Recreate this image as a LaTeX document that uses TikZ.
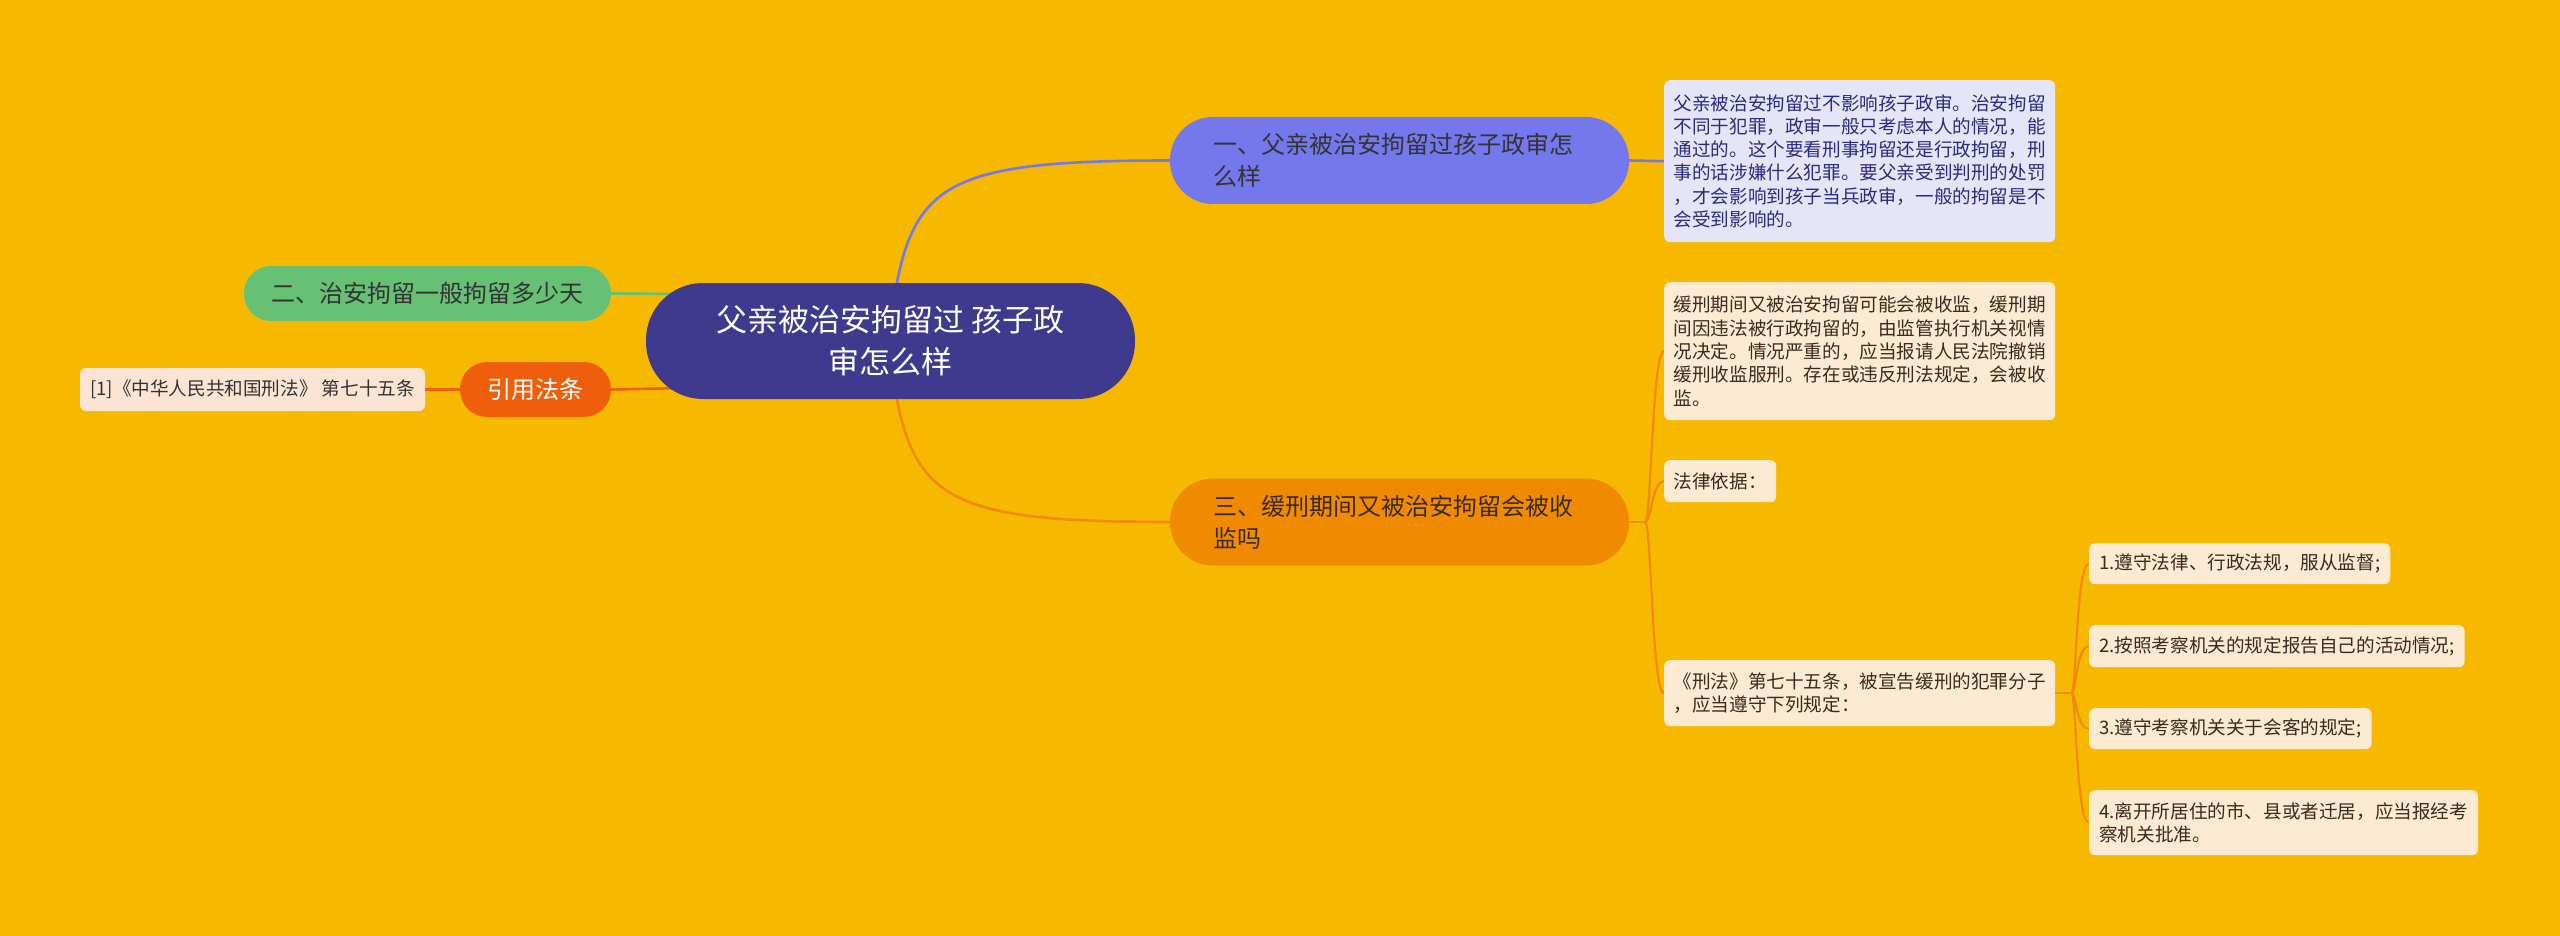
\documentclass[tikz,border=0pt]{standalone}
\usepackage{fontspec}
\setmainfont{Noto Sans CJK SC}
\usetikzlibrary{calc}
\pgfdeclarelayer{bg}
\pgfsetlayers{bg,main}
\definecolor{bgc}{HTML}{F6B900}
\definecolor{rootc}{HTML}{3F3A8E}
\definecolor{cblue}{HTML}{7478EC}
\definecolor{leafbl}{HTML}{E5E5F7}
\definecolor{txtbl}{HTML}{2B2B80}
\definecolor{corange}{HTML}{F08A00}
\definecolor{cgreen}{HTML}{67C174}
\definecolor{cred}{HTML}{EF5F0B}
\definecolor{refc}{HTML}{FCE4D4}
\definecolor{leafor}{HTML}{FDEAD2}
\definecolor{txtor}{HTML}{3A2B1E}
\definecolor{txtdk}{HTML}{333333}
\begin{document}
\begin{tikzpicture}[x=1pt,y=-1pt,
  conn/.style={line width=2.6pt, line cap=round},
  thin conn/.style={line width=2.2pt, line cap=round, corange},
  pillbox/.style={rounded corners=#1, inner sep=0pt},
  branchbox/.style={pillbox=43pt, minimum width=459pt, minimum height=87pt, text width=372pt, align=left, font=\fontsize{24}{32}\selectfont},
  leafbox/.style={fill=leafor, text=txtor, rounded corners=6pt, inner xsep=9.5pt, inner ysep=2pt, align=left, anchor=north west, font=\fontsize{18.6}{23.3}\selectfont},
]
\path[use as bounding box] (0,0) rectangle (2560,936);

% root
\node[pillbox=57pt, fill=rootc, text=white, minimum width=489pt, minimum height=116pt, align=center, font=\fontsize{31}{42}\selectfont] (root) at (890.5,341) {父亲被治安拘留过 孩子政\\审怎么样};

% branches
\node[branchbox, fill=cblue, text=txtdk] (b1) at (1399.5,160.5) {一、父亲被治安拘留过孩子政审怎\\么样};
\node[branchbox, fill=corange, text=txtor] (b3) at (1399.5,522) {三、缓刑期间又被治安拘留会被收\\监吗};
\node[pillbox=27pt, fill=cgreen, text=txtdk, minimum width=367pt, minimum height=55pt, font=\fontsize{24}{30}\selectfont] (b2) at (427.5,293.5) {二、治安拘留一般拘留多少天};
\node[pillbox=27pt, fill=cred, text=white, minimum width=151pt, minimum height=55pt, font=\fontsize{24}{30}\selectfont] (yin) at (535.5,389.5) {引用法条};
\node[rounded corners=6pt, inner sep=0pt, fill=refc, text=txtdk, minimum width=345pt, minimum height=43pt, font=\fontsize{18.6}{23}\selectfont] (ref1) at (252.5,389.5) {[1]《中华人民共和国刑法》 第七十五条};

% leaves
\node[leafbox, fill=leafbl, text=txtbl, minimum height=162pt] (l1) at (1664,80) {父亲被治安拘留过不影响孩子政审。治安拘留\\不同于犯罪，政审一般只考虑本人的情况，能\\通过的。这个要看刑事拘留还是行政拘留，刑\\事的话涉嫌什么犯罪。要父亲受到判刑的处罚\\，才会影响到孩子当兵政审，一般的拘留是不\\会受到影响的。};
\node[leafbox, minimum height=138pt] (l3a) at (1664,282) {缓刑期间又被治安拘留可能会被收监，缓刑期\\间因违法被行政拘留的，由监管执行机关视情\\况决定。情况严重的，应当报请人民法院撤销\\缓刑收监服刑。存在或违反刑法规定，会被收\\监。};
\node[leafbox, minimum height=42pt] (l3b) at (1664,460) {法律依据：};
\node[leafbox, minimum height=66pt] (l3c) at (1664,660) {《刑法》第七十五条，被宣告缓刑的犯罪分子\\，应当遵守下列规定：};

\node[leafbox, inner xsep=10pt, minimum height=41pt] (k1) at (2089,543) {1.遵守法律、行政法规，服从监督;};
\node[leafbox, inner xsep=10pt, minimum height=42pt] (k2) at (2089,625) {2.按照考察机关的规定报告自己的活动情况;};
\node[leafbox, inner xsep=10pt, minimum height=41pt] (k3) at (2089,708) {3.遵守考察机关关于会客的规定;};
\node[leafbox, inner xsep=10pt, minimum height=65pt] (k4) at (2089,790) {4.离开所居住的市、县或者迁居，应当报经考\\察机关批准。};

\coordinate (b3j) at ($(b3.east)+(16,0)$);
\coordinate (kj) at ($(l3c.east)+(16,0)$);
\coordinate (rtop) at ($(root.north)+(6,2)$);
\coordinate (rbot) at ($(root.south)+(6,-2)$);

\begin{pgfonlayer}{bg}
\fill[bgc] (0,0) rectangle (2560,936);
\draw[conn, cblue] (rtop) .. controls +(20,-105) and +(-210,0) .. (b1.west);
\draw[conn, cblue] (b1.east) -- (l1.west);
\draw[conn, corange] (rbot) .. controls +(20,105) and +(-210,0) .. (b3.west);
\draw[conn, cgreen] (b2.east) .. controls +(30,0) and +(-30,0) .. ($(root.west)+(40,-47)$);
\draw[conn, cred] (yin.east) -- ($(root.west)+(40,47)$);
\draw[conn, cred] (yin.west) -- (ref1.east);
\draw[thin conn] (b3.east) -- (b3j);
\foreach \c in {l3a,l3b,l3c}{
  \draw[thin conn] (b3j) .. controls +(6,0) and +(-12,0) .. (\c.west);
}
\draw[thin conn] (l3c.east) -- (kj);
\foreach \c in {k1,k2,k3,k4}{
  \draw[thin conn] (kj) .. controls +(5,0) and +(-13,0) .. (\c.west);
}
\end{pgfonlayer}
\end{tikzpicture}
\end{document}
